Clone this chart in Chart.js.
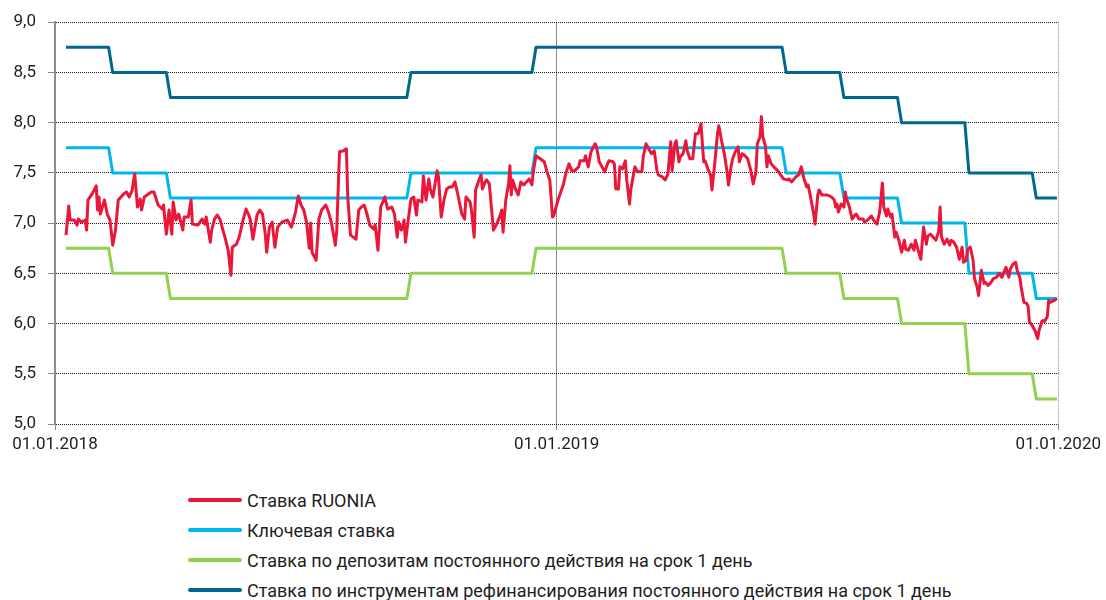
<!DOCTYPE html>
<html lang="ru">
<head>
<meta charset="utf-8">
<script src="https://cdn.jsdelivr.net/npm/chart.js@4/dist/chart.umd.min.js"></script>
<style>
  html, body { margin: 0; padding: 0; background: #fff; }
  #wrap { position: relative; width: 1106px; height: 600px; overflow: hidden; }
  #chart { position: absolute; left: 0; top: 0; }
  #legend { position: absolute; left: 188px; top: 485px; font-family: Roboto, sans-serif; font-size: 18px; color: #1e1e1e; }
  .item { display: flex; align-items: center; height: 30px; white-space: nowrap; }
  .swatch { width: 54px; height: 4px; border-radius: 2px; margin-right: 5px; }
</style>
</head>
<body>
<div id="wrap">
  <canvas id="chart" width="1106" height="470"></canvas>
  <div id="legend"></div>
</div>
<script>
// ---- Data ----
const seriesLabels = [
  'Ставка RUONIA',
  'Ключевая ставка',
  'Ставка по депозитам постоянного действия на срок 1 день',
  'Ставка по инструментам рефинансирования постоянного действия на срок 1 день'
];

// X axis: days since 01.01.2018
const xTickDays = [0, 365, 730];
const xTickLabels = ['01.01.2018', '01.01.2019', '01.01.2020'];
const yTicksStep = 0.5;

// Policy-rate change dates (step series)
const stepDates = ['2018-01-09','2018-02-09','2018-02-12','2018-03-23','2018-03-26','2018-09-14','2018-09-17','2018-12-14','2018-12-17','2019-06-14','2019-06-17','2019-07-26','2019-07-29','2019-09-06','2019-09-09','2019-10-25','2019-10-28','2019-12-13','2019-12-16','2019-12-31'];
const keyRate     = [7.75,7.75,7.5,7.5,7.25,7.25,7.5,7.5,7.75,7.75,7.5,7.5,7.25,7.25,7.0,7.0,6.5,6.5,6.25,6.25];
const depositRate = [6.75,6.75,6.5,6.5,6.25,6.25,6.5,6.5,6.75,6.75,6.5,6.5,6.25,6.25,6.0,6.0,5.5,5.5,5.25,5.25];
const refiRate    = [8.75,8.75,8.5,8.5,8.25,8.25,8.5,8.5,8.75,8.75,8.5,8.5,8.25,8.25,8.0,8.0,7.5,7.5,7.25,7.25];

// RUONIA: days since 01.01.2018 and rate, %
const ruoniaDay = [8,10,11,14,16,17,19,22,23,24,27,30,31,32,33,36,38,40,42,44,46,50,52,54,56,58,60,62,63,65,70,72,75,78,79,80,81,83,85,86,88,90,93,94,97,99,100,104,107,109,110,113,114,116,118,120,124,126,128,129,132,134,137,139,141,142,144,147,149,151,153,
154,156,158,160,162,165,169,172,175,177,179,181,183,185,186,187,190,192,194,197,199,201,204,205,207,210,212,213,215,217,219,221,223,225,227,229,232,233,235,237,240,242,245,247,249,250,252,254,255,257,259,261,263,264,267,268,270,272,273,275,278,279,281,283,285,287,289,291,293,296,298,299,302,
303,305,306,308,310,311,313,314,316,319,321,324,325,326,328,330,331,332,333,335,337,339,341,343,345,347,348,350,353,356,358,360,362,363,366,370,372,374,376,378,381,382,385,386,388,390,391,393,394,396,398,400,402,403,406,407,408,410,411,413,415,416,418,419,421,422,424,427,428,430,432,434,436,438,439,442,444,446,
448,449,451,452,454,455,457,459,460,462,464,466,468,470,472,473,475,477,478,480,482,483,485,487,489,490,492,493,495,497,498,500,502,504,506,508,510,511,513,514,515,517,518,519,521,523,526,528,530,533,534,536,539,541,543,545,547,548,550,552,553,555,556,558,560,562,565,567,568,569,570,572,574,575,576,578,580,582,583,585,588,589,591,
592,594,596,598,600,602,603,605,606,608,609,611,612,614,616,618,619,621,623,625,626,628,630,631,632,634,635,637,639,641,643,644,645,647,649,651,652,654,656,658,660,661,663,664,666,668,669,671,672,674,676,677,679,681,683,685,687,689,691,692,694,695,697,699,700,702,703,705,707,708,709,711,713,715,716,718,719,720,722,723,724,727,729];
const ruoniaValue = [6.88,7.17,7.03,7.03,6.98,7.04,7.01,7.03,6.93,7.23,7.29,7.37,7.13,7.26,7.09,7.23,7.09,7.03,6.78,6.93,7.23,7.29,7.31,7.26,7.32,7.49,7.16,7.24,7.13,7.26,7.31,7.31,7.18,7.14,7.18,7.03,6.89,7.13,6.89,7.21,7.03,7.09,6.93,7.06,7.06,7.23,6.99,6.98,7.04,6.99,7.06,6.81,6.93,7.04,7.08,7.04,6.84,6.73,6.48,6.76,6.79,6.86,7.04,7.14,7.08,7.04,6.84,7.08,7.13,7.09,6.89,
6.71,6.96,7.01,6.76,6.96,7.01,7.03,6.96,7.11,7.27,7.18,7.13,7.01,6.75,7.00,6.71,6.63,7.04,7.13,7.18,7.11,7.01,6.78,6.93,7.71,7.72,7.74,7.26,6.88,6.86,6.84,7.13,7.16,7.18,7.09,6.98,6.94,6.98,6.73,7.16,7.26,7.14,7.16,7.09,6.86,7.01,6.93,7.03,6.81,7.03,7.24,7.26,7.08,7.23,7.21,7.47,7.23,7.44,7.34,7.26,7.52,7.46,7.06,7.23,7.34,7.36,7.36,7.41,7.29,7.09,7.04,7.26,7.21,
7.13,6.86,7.33,7.41,7.48,7.34,7.41,7.43,7.39,6.93,6.98,7.08,7.13,6.91,7.23,7.39,7.57,7.28,7.43,7.34,7.28,7.41,7.38,7.41,7.44,7.38,7.51,7.67,7.64,7.61,7.51,7.43,7.06,7.08,7.23,7.39,7.51,7.59,7.52,7.52,7.56,7.62,7.62,7.67,7.56,7.71,7.74,7.79,7.76,7.61,7.56,7.51,7.59,7.62,7.61,7.59,7.34,7.34,7.56,7.54,7.62,7.43,7.19,7.34,7.49,7.56,7.51,7.51,7.66,7.79,7.74,7.69,7.72,7.52,7.48,7.46,7.43,7.49,
7.81,7.52,7.79,7.82,7.61,7.66,7.69,7.82,7.72,7.64,7.64,7.89,7.89,7.99,7.61,7.62,7.54,7.48,7.33,7.59,7.89,7.97,7.82,7.69,7.51,7.38,7.57,7.64,7.71,7.76,7.61,7.69,7.67,7.64,7.54,7.39,7.51,7.79,7.86,8.06,7.86,7.76,7.56,7.67,7.59,7.56,7.52,7.48,7.44,7.43,7.44,7.41,7.46,7.48,7.56,7.44,7.36,7.38,7.24,7.09,6.99,7.28,7.33,7.28,7.28,7.28,7.26,7.23,7.16,7.19,7.11,7.19,7.16,7.31,7.24,7.16,7.04,7.08,7.09,7.04,7.04,7.01,7.03,
7.04,7.07,7.02,6.99,7.11,7.40,7.16,7.07,7.14,7.06,7.09,6.86,6.91,6.83,6.71,6.83,6.74,6.73,6.79,6.73,6.83,6.73,6.64,6.81,6.96,6.79,6.87,6.89,6.86,6.83,6.92,7.16,6.86,6.79,6.84,6.78,6.83,6.81,6.76,6.64,6.76,6.61,6.63,6.74,6.76,6.63,6.45,6.36,6.28,6.53,6.40,6.41,6.38,6.41,6.45,6.46,6.50,6.46,6.53,6.56,6.46,6.54,6.59,6.61,6.53,6.46,6.36,6.21,6.20,6.17,6.02,5.98,5.93,5.85,5.93,6.02,6.03,6.02,6.07,6.23,6.21,6.23,6.25];

const seriesColors = ['#EA173A', '#00B6EF', '#92D050', '#00688F'];

// ---- Helpers ----
const base = Date.UTC(2018, 0, 1);
function dayOf(iso) {
  const [y, m, d] = iso.split('-').map(Number);
  return Math.round((Date.UTC(y, m - 1, d) - base) / 86400000);
}
const stepDays = stepDates.map(dayOf);
const pts = (xs, ys) => xs.map((x, i) => ({ x: x, y: ys[i] }));

const fontFamily = 'Roboto, sans-serif';
const textColor = '#1e1e1e';

const datasets = [
  { label: seriesLabels[0], data: pts(ruoniaDay, ruoniaValue), borderColor: seriesColors[0] },
  { label: seriesLabels[1], data: pts(stepDays, keyRate), borderColor: seriesColors[1] },
  { label: seriesLabels[2], data: pts(stepDays, depositRate), borderColor: seriesColors[2] },
  { label: seriesLabels[3], data: pts(stepDays, refiRate), borderColor: seriesColors[3] }
].map(d => Object.assign(d, { backgroundColor: d.borderColor, fill: false, pointRadius: 0, borderWidth: 3, tension: 0, borderJoinStyle: 'round' }));

const chart = new Chart(document.getElementById('chart'), {
  type: 'line',
  data: { datasets: datasets },
  options: {
    responsive: false,
    animation: false,
    layout: { padding: { top: 22, right: 45, left: 0, bottom: 0 } },
    plugins: { legend: { display: false }, tooltip: { enabled: false } },
    scales: {
      x: {
        type: 'linear',
        min: xTickDays[0],
        max: xTickDays[xTickDays.length - 1],
        afterBuildTicks: s => { s.ticks = xTickDays.map(v => ({ value: v })); },
        afterFit: s => { s.height = 46; },
        ticks: {
          autoSkip: false, maxRotation: 0, minRotation: 0, padding: 5,
          color: textColor, font: { family: fontFamily, size: 17 },
          callback: v => xTickLabels[xTickDays.indexOf(v)]
        },
        grid: {
          color: c => (c.tick && c.tick.value === xTickDays[0]) ? 'rgba(0,0,0,0)' : '#8a8a8a',
          lineWidth: 1, tickLength: 6, tickColor: '#8a8a8a', tickWidth: 1
        },
        border: { display: false, dash: c => (c.tick && c.tick.value === xTickDays[xTickDays.length - 1]) ? [1, 1] : [] }
      },
      y: {
        min: 5, max: 9,
        afterFit: s => { s.width = 55; },
        ticks: {
          stepSize: yTicksStep, padding: 12,
          color: textColor, font: { family: fontFamily, size: 17 },
          callback: v => Number(v).toFixed(1).replace('.', ',')
        },
        grid: { color: '#1a1a1a', lineWidth: 1, tickLength: 7, tickColor: '#8a8a8a', tickWidth: 1 },
        border: { display: true, color: '#8c8c8c', width: 2, dash: [1, 1] }
      }
    }
  }
});

// ---- HTML legend built from datasets ----
const legend = document.getElementById('legend');
chart.data.datasets.forEach(ds => {
  const row = document.createElement('div');
  row.className = 'item';
  const sw = document.createElement('span');
  sw.className = 'swatch';
  sw.style.background = ds.borderColor;
  const tx = document.createElement('span');
  tx.textContent = ds.label;
  row.appendChild(sw);
  row.appendChild(tx);
  legend.appendChild(row);
});
</script>
</body>
</html>
